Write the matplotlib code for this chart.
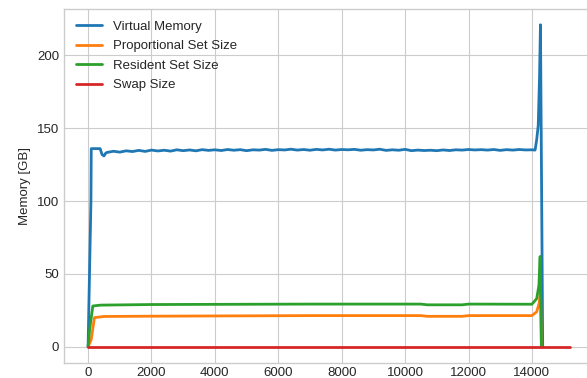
import numpy as np
import matplotlib
matplotlib.use("Agg")
import matplotlib.pyplot as plt

# Speicherverbrauch ueber die Laufzeit (Sekunden) in GB
vm_zeit = [0, 90, 100, 380, 440, 500, 560]
vm_werte = [0, 100, 136, 136, 132, 131, 133]

vm_mitte_werte = [
    133.4, 134.2, 133.6, 134.5, 134.0, 134.8, 134.1, 135.0, 134.4, 134.9,
    134.3, 135.2, 134.6, 135.1, 134.5, 135.3, 134.8, 135.2, 134.7, 135.4,
    134.9, 135.3, 134.6, 135.2, 135.0, 135.5, 134.8, 135.3, 135.1, 135.6,
    135.0, 135.4, 134.9, 135.5, 135.1, 135.6, 135.0, 135.4, 135.2, 135.5,
    134.9, 135.3, 135.1, 135.6, 134.8, 135.2, 134.9, 135.5, 134.6, 135.0,
    134.7, 134.9, 134.6, 135.1, 134.7, 135.2, 135.0, 135.4, 135.1, 135.3,
    135.0, 135.4, 134.8, 135.3, 135.0, 135.4, 135.1, 135.2,
]
vm_mitte_zeit = list(range(600, 600 + 200 * len(vm_mitte_werte), 200))

vm_ende_zeit = [14100, 14150, 14200, 14240, 14270, 14340]
vm_ende_werte = [135.0, 142, 152, 185, 221, 0]

pss_zeit = [0, 100, 200, 500, 2000, 7000, 10500, 10700, 11800, 12000, 14000, 14150, 14230, 14270, 14300]
pss_werte = [0, 5, 20, 20.8, 21.0, 21.4, 21.4, 20.9, 20.9, 21.4, 21.4, 24, 30, 40, 0]

rss_zeit = [0, 50, 150, 400, 2000, 7000, 10500, 10700, 11800, 12000, 14000, 14150, 14220, 14260, 14300]
rss_werte = [0, 12, 28, 28.6, 29.0, 29.3, 29.3, 28.8, 28.8, 29.3, 29.2, 33, 42, 62, 0]

swap_zeit = [0, 15200]
swap_werte = [0, 0]

plt.style.use("seaborn-v0_8-whitegrid")
plt.rcParams["font.family"] = ["Liberation Sans", "DejaVu Sans"]

fig = plt.figure(figsize=(5.87, 3.78), dpi=100)
ax = fig.add_axes([0.109, 0.04, 0.903, 0.937])

vm_x = np.array(vm_zeit + vm_mitte_zeit + vm_ende_zeit)
vm_y = np.array(vm_werte + vm_mitte_werte + vm_ende_werte)

ax.plot(vm_x, vm_y, color="#1f77b4", lw=2, label="Virtual Memory")
ax.plot(pss_zeit, pss_werte, color="#ff7f0e", lw=2, label="Proportional Set Size")
ax.plot(rss_zeit, rss_werte, color="#2ca02c", lw=2, label="Resident Set Size")
ax.plot(swap_zeit, swap_werte, color="#d62728", lw=2, label="Swap Size")

ax.set_ylabel("Memory [GB]", fontsize=9.5)
ax.tick_params(labelsize=9.5)
ax.tick_params(axis="x", pad=3)
ax.set_xticks(range(0, 16000, 2000))
ax.set_yticks([0, 50, 100, 150, 200])
ax.legend(loc="upper left", fontsize=9.5, frameon=False, labelspacing=0.55)

fig.savefig("out.png", dpi=100)
